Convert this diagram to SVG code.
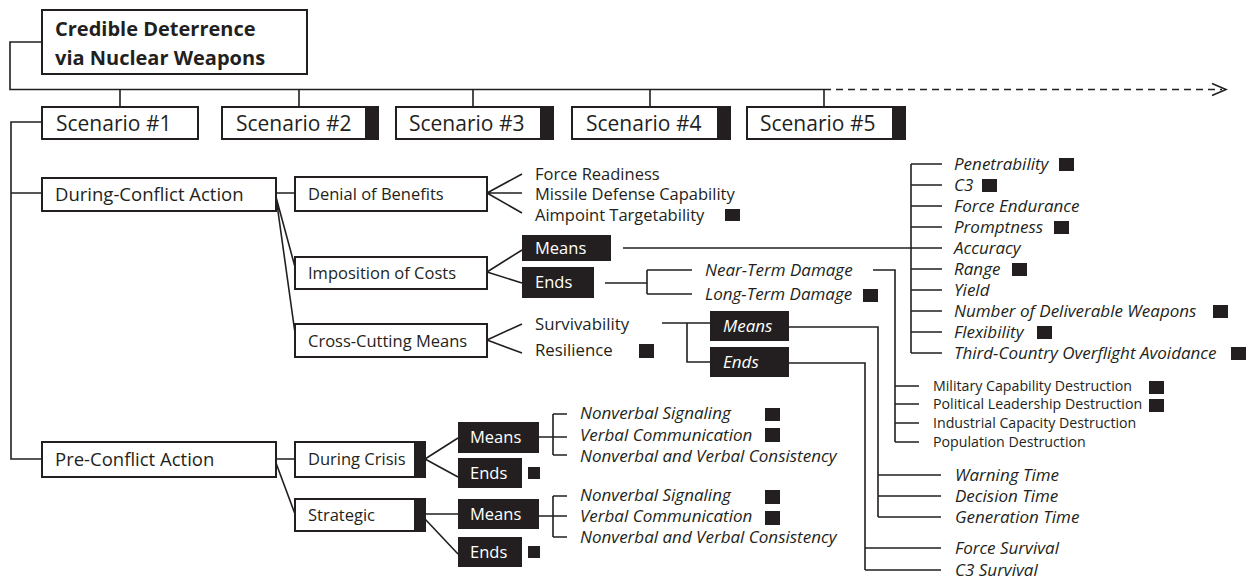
<svg xmlns="http://www.w3.org/2000/svg" width="1246" height="579" viewBox="0 0 1246 579">
  <style>
    .box { fill: #fff; stroke: #231f20; stroke-width: 2; }
    .blk { fill: #231f20; }
    .ln { fill: none; stroke: #231f20; stroke-width: 1.6; }
    .dash { fill: none; stroke: #231f20; stroke-width: 1.6; stroke-dasharray: 7 5; }
    text { font-family: "Open Sans", "Noto Sans", sans-serif; fill: #231f20; }
    .ttl { font-size: 20px; font-weight: bold; }
    .scn { font-size: 21px; }
    .l1 { font-size: 18.5px; }
    .l2 { font-size: 16.5px; }
    .li { font-size: 16.8px; }
    .ld { font-size: 16.5px; }
    .it { font-size: 17px; font-style: italic; }
    .sm { font-size: 14.2px; }
    .wt { fill: #fff; font-size: 16.5px; }
    .wi { fill: #fff; font-size: 17px; font-style: italic; }
  </style>

  <!-- connectors -->
  <g id="connectors">
    <!-- root to scenario bar -->
    <path class="ln" d="M42,42 H10 V89.5 H824"/>
    <path class="dash" d="M824,89.5 H1222"/>
    <polyline class="ln" points="1212,83.5 1226,89.5 1212,95.5"/>
    <path class="ln" d="M120,89.5 V107 M299,89.5 V107 M473,89.5 V107 M650,89.5 V107 M824,89.5 V107"/>

    <!-- scenario #1 trunk -->
    <path class="ln" d="M42,122 H11 V459 H42 M11,193 H42"/>

    <!-- during-conflict branches -->
    <path class="ln" d="M276,193 H295 M276,197 L295,267 M276,197 L295,333"/>
    <path class="ln" d="M487,193 L522,174 M487,193 H522 M487,193 L522,213"/>
    <path class="ln" d="M487,272 L522,250 M487,272 L522,283"/>
    <path class="ln" d="M487,340 L522,324 M487,340 L522,353"/>

    <!-- means to weapon attributes -->
    <path class="ln" d="M623,248 H911"/>
    <path class="ln" d="M911,164 V353 M911,164 H942 M911,185 H942 M911,206 H942 M911,227 H942 M911,248 H942 M911,269 H942 M911,290 H942 M911,311 H942 M911,332 H942 M911,353 H942"/>

    <!-- ends to damage -->
    <path class="ln" d="M605,283 H647 M647,270 V294 M647,270 H692 M647,294 H692"/>
    <path class="ln" d="M873,270 H895 V442 M895,386 H919 M895,404 H919 M895,423 H919 M895,442 H919"/>

    <!-- survivability -->
    <path class="ln" d="M662,323 H710 M687,323 V362 H710"/>
    <path class="ln" d="M789,327 H878 V517 M878,475 H941 M878,496 H941 M878,517 H941"/>
    <path class="ln" d="M789,363 H865 V570 M865,548 H941 M865,570 H941"/>

    <!-- pre-conflict branches -->
    <path class="ln" d="M276,459 H295 M276,463 L295,514"/>
    <path class="ln" d="M425,459 L458,438 M425,459 L458,477"/>
    <path class="ln" d="M425,514 H458 M425,519 L458,554"/>
    <path class="ln" d="M539,437 H553 M553,414 V455 M553,414 H567 M553,437 H567 M553,455 H567"/>
    <path class="ln" d="M539,516 H553 M553,496 V537 M553,496 H567 M553,516 H567 M553,537 H567"/>
  </g>

  <!-- root -->
  <g id="root">
    <rect class="box" x="42" y="10" width="265" height="64"/>
    <text class="ttl" x="55" y="36">Credible Deterrence</text>
    <text class="ttl" x="55" y="65">via Nuclear Weapons</text>
  </g>

  <!-- scenarios -->
  <g id="scenario1">
    <rect class="box" x="42" y="107" width="156" height="32"/>
    <text class="scn" x="56" y="131">Scenario #1</text>
  </g>
  <g id="scenario2">
    <rect class="box" x="222" y="107" width="156" height="32"/>
    <rect class="blk" x="365" y="107" width="14" height="32"/>
    <text class="scn" x="236" y="131">Scenario #2</text>
  </g>
  <g id="scenario3">
    <rect class="box" x="396" y="107" width="157" height="32"/>
    <rect class="blk" x="540" y="107" width="14" height="32"/>
    <text class="scn" x="409" y="131">Scenario #3</text>
  </g>
  <g id="scenario4">
    <rect class="box" x="572" y="107" width="158" height="32"/>
    <rect class="blk" x="717" y="107" width="14" height="32"/>
    <text class="scn" x="586" y="131">Scenario #4</text>
  </g>
  <g id="scenario5">
    <rect class="box" x="747" y="107" width="158" height="32"/>
    <rect class="blk" x="892" y="107" width="14" height="32"/>
    <text class="scn" x="760" y="131">Scenario #5</text>
  </g>

  <!-- during-conflict action -->
  <g id="during-conflict">
    <rect class="box" x="42" y="178" width="234" height="33"/>
    <text class="l1" x="55" y="201">During-Conflict Action</text>
  </g>
  <g id="denial">
    <rect class="box" x="295" y="177" width="192" height="34"/>
    <text class="l2" x="308" y="200">Denial of Benefits</text>
  </g>
  <g id="denial-items">
    <text class="ld" x="535" y="179.5">Force Readiness</text>
    <text class="ld" x="535" y="200">Missile Defense Capability</text>
    <text class="ld" x="535" y="220.5">Aimpoint Targetability</text>
    <rect class="blk" x="725" y="209" width="15" height="12"/>
  </g>
  <g id="imposition">
    <rect class="box" x="295" y="257" width="192" height="32"/>
    <text class="l2" x="308" y="279">Imposition of Costs</text>
  </g>
  <g id="imposition-means">
    <rect class="blk" x="522" y="235" width="89" height="26"/>
    <text class="wt" x="535" y="254">Means</text>
  </g>
  <g id="imposition-ends">
    <rect class="blk" x="522" y="267" width="72" height="31"/>
    <text class="wt" x="535" y="288">Ends</text>
  </g>
  <g id="damage">
    <text class="it" x="705" y="276">Near-Term Damage</text>
    <text class="it" x="705" y="300">Long-Term Damage</text>
    <rect class="blk" x="863" y="289" width="15" height="13"/>
  </g>
  <g id="attributes">
    <text class="it" x="954" y="170">Penetrability</text>
    <rect class="blk" x="1059" y="158" width="15" height="13"/>
    <text class="it" x="954" y="191">C3</text>
    <rect class="blk" x="982" y="179" width="15" height="13"/>
    <text class="it" x="954" y="212">Force Endurance</text>
    <text class="it" x="954" y="233">Promptness</text>
    <rect class="blk" x="1054" y="221" width="15" height="13"/>
    <text class="it" x="954" y="254">Accuracy</text>
    <text class="it" x="954" y="275">Range</text>
    <rect class="blk" x="1012" y="263" width="15" height="13"/>
    <text class="it" x="954" y="296">Yield</text>
    <text class="it" x="954" y="317">Number of Deliverable Weapons</text>
    <rect class="blk" x="1213" y="305" width="15" height="13"/>
    <text class="it" x="954" y="338">Flexibility</text>
    <rect class="blk" x="1037" y="326" width="15" height="13"/>
    <text class="it" x="954" y="359">Third-Country Overflight Avoidance</text>
    <rect class="blk" x="1231" y="347" width="15" height="13"/>
  </g>
  <g id="destruction">
    <text class="sm" x="933" y="391">Military Capability Destruction</text>
    <rect class="blk" x="1149" y="381" width="15" height="13"/>
    <text class="sm" x="933" y="409">Political Leadership Destruction</text>
    <rect class="blk" x="1149" y="399" width="15" height="13"/>
    <text class="sm" x="933" y="428">Industrial Capacity Destruction</text>
    <text class="sm" x="933" y="447">Population Destruction</text>
  </g>
  <g id="cross-cutting">
    <rect class="box" x="295" y="324" width="192" height="33"/>
    <text class="l2" x="308" y="347">Cross-Cutting Means</text>
  </g>
  <g id="cross-items">
    <text class="li" x="535" y="330">Survivability</text>
    <text class="li" x="535" y="356">Resilience</text>
    <rect class="blk" x="639" y="344" width="15" height="14"/>
  </g>
  <g id="survivability-means">
    <rect class="blk" x="710" y="311" width="79" height="30"/>
    <text class="wi" x="723" y="332">Means</text>
  </g>
  <g id="survivability-ends">
    <rect class="blk" x="710" y="347" width="79" height="30"/>
    <text class="wi" x="723" y="368">Ends</text>
  </g>
  <g id="timing">
    <text class="it" x="955" y="481">Warning Time</text>
    <text class="it" x="955" y="502">Decision Time</text>
    <text class="it" x="955" y="523">Generation Time</text>
  </g>
  <g id="survival">
    <text class="it" x="955" y="554">Force Survival</text>
    <text class="it" x="955" y="576">C3 Survival</text>
  </g>

  <!-- pre-conflict action -->
  <g id="pre-conflict">
    <rect class="box" x="42" y="442" width="234" height="35"/>
    <text class="l1" x="55" y="466">Pre-Conflict Action</text>
  </g>
  <g id="during-crisis">
    <rect class="box" x="295" y="442" width="130" height="35"/>
    <rect class="blk" x="414" y="442" width="12" height="35"/>
    <text class="l2" x="308" y="465">During Crisis</text>
  </g>
  <g id="crisis-means">
    <rect class="blk" x="458" y="422" width="81" height="31"/>
    <text class="wt" x="470" y="443">Means</text>
  </g>
  <g id="crisis-ends">
    <rect class="blk" x="458" y="458" width="64" height="30"/>
    <text class="wt" x="470" y="479">Ends</text>
    <rect class="blk" x="528" y="467" width="12" height="12"/>
  </g>
  <g id="crisis-items">
    <text class="it" x="580" y="419">Nonverbal Signaling</text>
    <rect class="blk" x="765" y="408" width="15" height="13"/>
    <text class="it" x="580" y="441">Verbal Communication</text>
    <rect class="blk" x="765" y="428" width="15" height="14"/>
    <text class="it" x="580" y="462">Nonverbal and Verbal Consistency</text>
  </g>
  <g id="strategic">
    <rect class="box" x="295" y="499" width="130" height="32"/>
    <rect class="blk" x="414" y="499" width="12" height="32"/>
    <text class="l2" x="308" y="521">Strategic</text>
  </g>
  <g id="strategic-means">
    <rect class="blk" x="458" y="499" width="81" height="30"/>
    <text class="wt" x="470" y="520">Means</text>
  </g>
  <g id="strategic-ends">
    <rect class="blk" x="458" y="537" width="64" height="30"/>
    <text class="wt" x="470" y="558">Ends</text>
    <rect class="blk" x="528" y="546" width="12" height="12"/>
  </g>
  <g id="strategic-items">
    <text class="it" x="580" y="501">Nonverbal Signaling</text>
    <rect class="blk" x="765" y="490" width="15" height="14"/>
    <text class="it" x="580" y="522">Verbal Communication</text>
    <rect class="blk" x="765" y="511" width="15" height="14"/>
    <text class="it" x="580" y="543">Nonverbal and Verbal Consistency</text>
  </g>
</svg>
